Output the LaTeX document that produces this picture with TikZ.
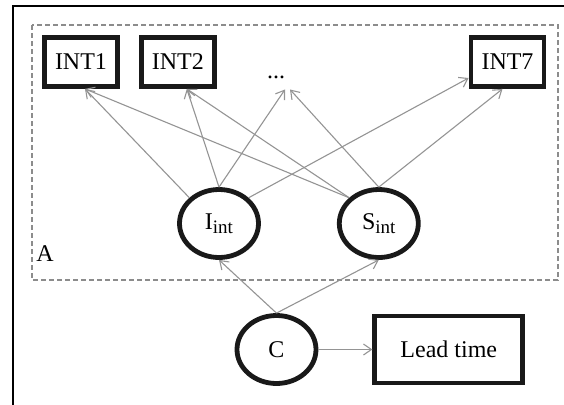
\documentclass[tikz,border=0pt]{standalone}
\usepackage{fontspec}
\setmainfont{Liberation Serif}
\usetikzlibrary{positioning,shapes.geometric,arrows.meta}

\newcommand{\lowsub}[1]{\raisebox{-2pt}{\fontsize{9.5pt}{10pt}\selectfont #1}}

\begin{document}
\begin{tikzpicture}[x=0.5pt,y=-0.5pt,
    font=\fontsize{12pt}{14pt}\selectfont,
    intbox/.style={draw=black!90,line width=2.4pt,minimum width=36.5pt,minimum height=24.5pt},
    latent/.style={ellipse,draw=black!90,line width=2.4pt,minimum width=39.5pt,minimum height=34pt,inner sep=0pt},
    arr/.style={->,>={Straight Barb[length=4pt,width=5.5pt]},draw=black!42,line width=0.55pt}]
    \useasboundingbox (0,0) rectangle (564,404);
    \draw[line width=1pt] (13,6) rectangle (600,450);
    % group A
    \draw[black!45,line width=0.6pt,dash pattern=on 2.5pt off 1.5pt] (32,25) rectangle (558,280);
    \node[anchor=west,inner sep=0pt] (A) at (36,254) {A};

    \node[intbox] (int1) at (81,62) {INT1};
    \node[intbox] (int2) [right=9.5pt of int1] {INT2};
    \node (dots) at (276,77) {...};
    \node[intbox] (int7) at (507.5,62) {INT7};

    \node[latent] (Iint) at (219,223.5) {I\lowsub{int}};
    \node[latent] (Sint) [right=38pt of Iint] {S\lowsub{int}};
    \node[latent] (C) at (276.5,349.5) {C};
    \node[intbox,minimum width=74pt,minimum height=33.5pt] (lead) [right=27pt of C] {Lead time};

    % I_int to indicators
    \draw[arr] (Iint.north west) -- ([xshift=2pt]int1.south);
    \draw[arr] (Iint.north) -- ([xshift=4.5pt]int2.south);
    \draw[arr] (Iint.north) -- ([xshift=4.5pt,yshift=-2pt]dots.south);
    \draw[arr] (Iint.north east) -- ([yshift=-8pt]int7.west);
    % S_int to indicators
    \draw[arr] (Sint.north west) -- ([xshift=2pt]int1.south);
    \draw[arr] (Sint.north west) -- ([xshift=4.5pt]int2.south);
    \draw[arr] (Sint.north) -- ([xshift=7pt,yshift=-2pt]dots.south);
    \draw[arr] (Sint.north) -- ([xshift=-2.5pt]int7.south);

    % C
    \draw[arr] (C.north) -- (Iint.south);
    \draw[arr] (C.north) -- (Sint.south);
    \draw[arr] (C) -- (lead);
\end{tikzpicture}
\end{document}
